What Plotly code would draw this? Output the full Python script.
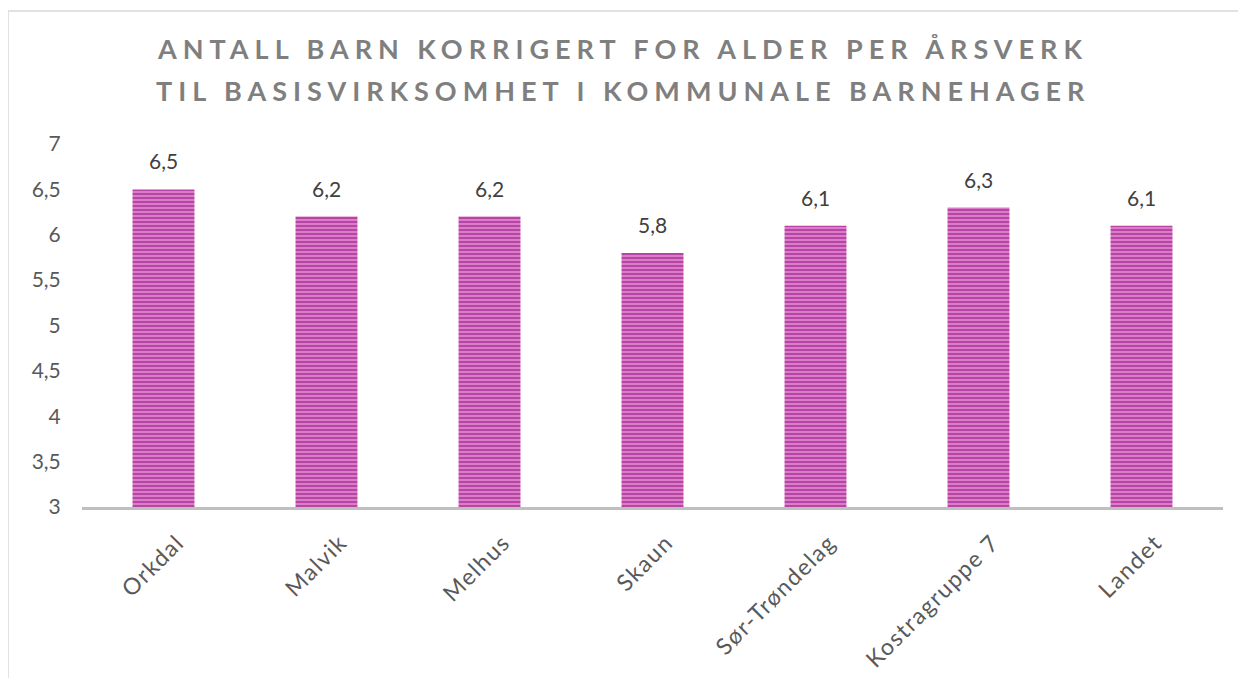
import plotly.graph_objects as go

categories = ["Orkdal", "Malvik", "Melhus", "Skaun", "Sør-Trøndelag", "Kostragruppe 7", "Landet"]
values = [6.5, 6.2, 6.2, 5.8, 6.1, 6.3, 6.1]
tick_vals = [3, 3.5, 4, 4.5, 5, 5.5, 6, 6.5, 7]
tick_text = ["3", "3,5", "4", "4,5", "5", "5,5", "6", "6,5", "7"]
labels = [f"{v:.1f}".replace(".", ",") for v in values]
title_lines = ["ANTALL BARN KORRIGERT FOR ALDER PER ÅRSVERK",
               "TIL BASISVIRKSOMHET I KOMMUNALE BARNEHAGER"]

font_family = "Lato, 'DejaVu Sans', sans-serif"

W, H = 1246, 678
L, R, T, B = 74, 31, 136, 179
pw, ph = W - L - R, H - T - B

fig = go.Figure(go.Bar(
    x=categories, y=values,
    marker=dict(
        color="#d874c6",
        line=dict(width=0),
        pattern=dict(shape="-", fgcolor="#8a0076", bgcolor="#e48ad2", size=4, solidity=0.6),
    ),
    cliponaxis=False,
))

annotations = []
for c, v, t in zip(categories, values, labels):
    annotations.append(dict(x=c, y=v, text=t, xref="x", yref="y", showarrow=False,
                            yanchor="bottom", yshift=14,
                            font=dict(size=21, color="#404040", family=font_family)))
for i, line in enumerate(title_lines):
    annotations.append(dict(
        x=0.5 - 30 / pw, xref="paper", y=1 + (96 - 43 * i) / ph, yref="paper",
        text=f'<span style="letter-spacing:6px">{line}</span>', showarrow=False,
        xanchor="center", yanchor="middle",
        font=dict(size=27, color="#7f7f7f", family=font_family, weight="bold"),
    ))

fig.update_layout(
    width=W, height=H,
    paper_bgcolor="white", plot_bgcolor="white",
    margin=dict(l=L, r=R, t=T, b=B),
    bargap=0.62,
    showlegend=False,
    xaxis=dict(
        tickvals=categories,
        ticktext=[f'<span style="letter-spacing:1.5px">{c}</span>' for c in categories],
        tickangle=-45, tickfont=dict(size=23, color="#595959", family=font_family),
        showline=True, linecolor="#bfbfbf", linewidth=3, ticks="outside", ticklen=10,
        tickcolor="rgba(0,0,0,0)", showgrid=False, ticklabelshift=14,
    ),
    yaxis=dict(
        range=[3, 7], tickvals=tick_vals, ticktext=tick_text,
        tickfont=dict(size=21, color="#595959", family=font_family),
        showgrid=False, zeroline=False, showline=False, ticks="outside",
        ticklen=16, tickcolor="rgba(0,0,0,0)",
    ),
    annotations=annotations,
    shapes=[dict(type="rect", xref="paper", yref="paper",
                 x0=(0 - L) / pw, x1=(W + 20 - L) / pw, y0=-(B + 20) / ph,
                 y1=1 + (T - 3) / ph,
                 line=dict(color="#d9d9d9", width=1.5), fillcolor="rgba(0,0,0,0)")],
)

fig.write_html("out.html")
